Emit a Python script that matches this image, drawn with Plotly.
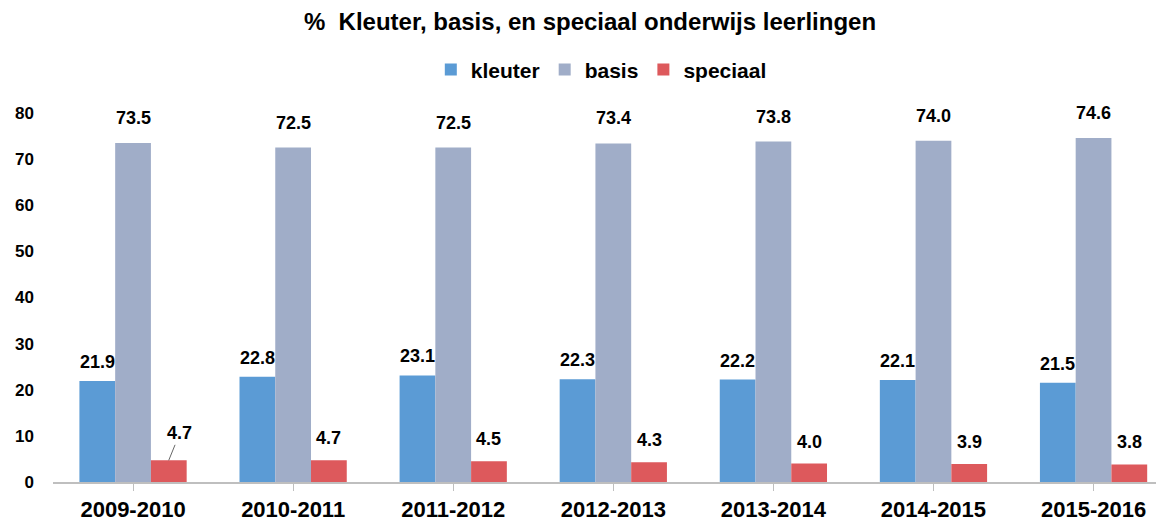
import plotly.graph_objects as go

years = ["2009-2010", "2010-2011", "2011-2012", "2012-2013",
         "2013-2014", "2014-2015", "2015-2016"]
kleuter = [21.9, 22.8, 23.1, 22.3, 22.2, 22.1, 21.5]
basis = [73.5, 72.5, 72.5, 73.4, 73.8, 74.0, 74.6]
speciaal = [4.7, 4.7, 4.5, 4.3, 4.0, 3.9, 3.8]

FONT = "Liberation Sans"
label_font = dict(family=FONT, size=18, color="black")

series = [
    ("kleuter", kleuter, "#5B9BD5", -0.223, 19),
    ("basis", basis, "#A0ADC8", 0.0, 25),
    ("speciaal", speciaal, "#DD595C", 0.223, 22),
]

fig = go.Figure()

for name, vals, color, off, lift in series:
    fig.add_trace(go.Bar(x=list(range(len(years))), y=vals, name=f"<b>{name}</b>",
                         marker_color=color, marker_line_width=0, cliponaxis=False))
    for i, v in enumerate(vals):
        if name == "speciaal" and i == 0:
            # first speciaal label has a small leader line
            fig.add_annotation(x=i + off, y=v, text=f"<b>{v:.1f}</b>", showarrow=True,
                               arrowhead=0, arrowwidth=0.8, arrowcolor="#404040",
                               ax=11, ay=-27, font=label_font, standoff=0)
        else:
            fig.add_annotation(x=i + off, y=v, text=f"<b>{v:.1f}</b>", showarrow=False,
                               yshift=lift, yanchor="middle", font=label_font)

fig.update_layout(
    width=1164, height=521,
    paper_bgcolor="white", plot_bgcolor="white",
    margin=dict(l=45, r=0, t=105, b=47),
    barmode="group", bargap=0.33, bargroupgap=0,
    title=dict(text="<b>%  Kleuter, basis, en speciaal onderwijs leerlingen</b>",
               x=0.5, xanchor="center", y=0.973, yanchor="middle",
               font=dict(family=FONT, size=24, color="black")),
    legend=dict(orientation="h", x=0.49, xanchor="center", y=1.117, yanchor="middle",
                font=dict(family=FONT, size=21, color="black"),
                itemwidth=30, traceorder="normal"),
    font=dict(family=FONT, color="black"),
)

fig.update_xaxes(
    range=[-0.5, 6.49], showline=True, linecolor="#BFBFBF", linewidth=1.5,
    tickmode="array", tickvals=list(range(len(years))),
    ticktext=[f"<b>{y}</b>" for y in years],
    ticks="outside", tickson="boundaries", ticklen=7, tickcolor="#BFBFBF",
    tickfont=dict(family=FONT, size=22, color="black"), showgrid=False,
)
fig.update_yaxes(
    range=[0, 80], dtick=10, showgrid=False, zeroline=False, showline=False,
    tickfont=dict(family=FONT, size=17, color="black"),
    tickprefix="<b>", ticksuffix="</b>", ticklabelstandoff=18,
)

fig.write_html("out.html")
